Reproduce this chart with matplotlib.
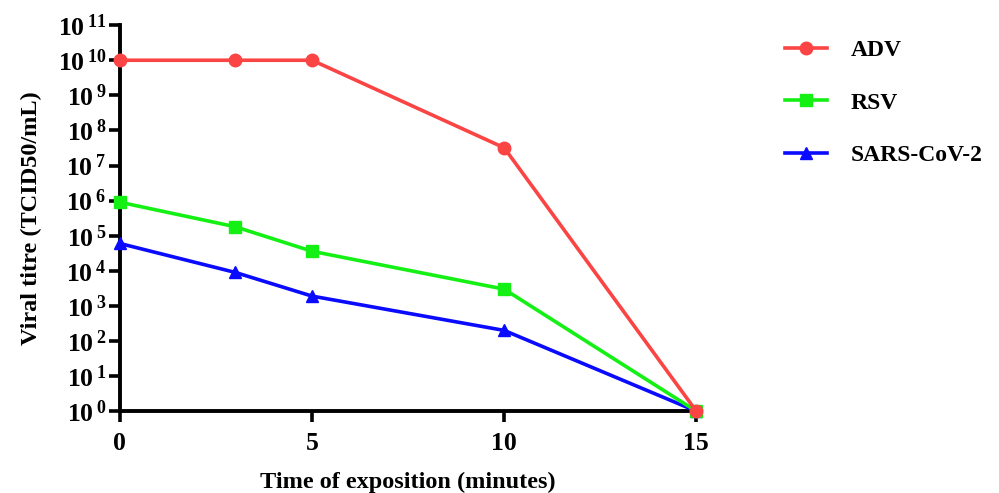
import math
import matplotlib
matplotlib.use("Agg")
import matplotlib.pyplot as plt
from matplotlib.ticker import FixedLocator, FuncFormatter, NullLocator

# === данные ===
minutes = [0, 3, 5, 10, 15]
adv = [1e10, 1e10, 1e10, 3.2e7, 1]
rsv = [9e5, 1.8e5, 3.6e4, 3e3, 1]
sars = [6e4, 9e3, 1.9e3, 2e2, 1]
x_ticks = [0, 5, 10, 15]
y_exponents = list(range(0, 12))

plt.rcParams["font.family"] = ["Liberation Serif", "DejaVu Serif"]
plt.rcParams["font.weight"] = "bold"
plt.rcParams["mathtext.fontset"] = "custom"
plt.rcParams["mathtext.bf"] = "Liberation Serif:bold"
plt.rcParams["mathtext.rm"] = "Liberation Serif:bold"

fig = plt.figure(figsize=(9.99, 4.93), dpi=100)
ax = fig.add_axes([0.12, 0.166, 0.577, 0.783])

lw = 2.6
ax.plot(minutes, sars, color="#0a0aff", lw=lw, marker="^", ms=8,
        label="SARS-CoV-2", clip_on=False, zorder=3)
ax.plot(minutes, rsv, color="#14f014", lw=lw, marker="s", ms=8,
        label="RSV", clip_on=False, zorder=4)
ax.plot(minutes, adv, color="#fb4444", lw=lw, marker="o", ms=9,
        label="ADV", clip_on=False, zorder=5)

ax.set_yscale("log")
ax.set_ylim(1, 1e11)
ax.set_xlim(0, 15)
ax.xaxis.set_major_locator(FixedLocator(x_ticks))
ax.yaxis.set_major_locator(FixedLocator([10.0 ** e for e in y_exponents]))
ax.yaxis.set_minor_locator(NullLocator())
ax.yaxis.set_major_formatter(FuncFormatter(
    lambda v, pos: r"$\mathbf{10^{\,%d}}$" % round(math.log10(v))))

for side in ["top", "right"]:
    ax.spines[side].set_visible(False)
for side in ["left", "bottom"]:
    ax.spines[side].set_linewidth(2.8)
ax.tick_params(width=2.6, length=8, labelsize=18.5, direction="out")
ax.tick_params(axis="x", pad=7)
ax.tick_params(axis="y", pad=2)

ax.set_xlabel("Time of exposition (minutes)", fontsize=17.5, fontweight="bold", labelpad=12)
ax.set_ylabel("Viral titre (TCID50/mL)", fontsize=17.5, fontweight="bold", labelpad=11)

handles, labels = ax.get_legend_handles_labels()
order = [2, 1, 0]
ax.legend([handles[i] for i in order], [labels[i] for i in order],
          loc="upper left", bbox_to_anchor=(0.765, 0.963), bbox_transform=fig.transFigure,
          frameon=False, fontsize=17, handlelength=1.75, labelspacing=1.32,
          handletextpad=1.0)

fig.savefig("out.png", dpi=100)
